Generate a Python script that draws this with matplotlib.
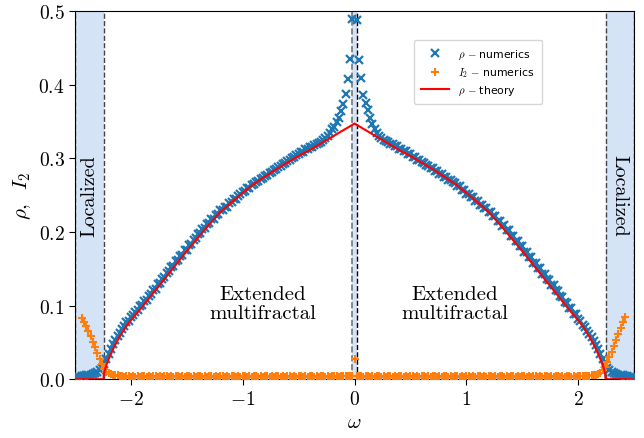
import numpy as np
import matplotlib
matplotlib.use('Agg')
import matplotlib.pyplot as plt

# Computer Modern look for ticks / annotations
plt.rcParams.update({
    'font.family': 'serif',
    'font.serif': ['cmr10'],
    'mathtext.fontset': 'cm',
    'axes.formatter.use_mathtext': True,
    'axes.unicode_minus': True,
})

# ---------------------------------------------------------------
# Data
# ---------------------------------------------------------------
omega_neg = np.linspace(-2.50, -0.02, 125)
omega_pos = np.linspace(0.02, 2.50, 125)
omega_num = np.concatenate([omega_neg, [0.0], omega_pos])

# rho numerics, omega = -2.50 ... -0.02
rho_num_neg = [
    0.003, 0.004, 0.003, 0.004, 0.004, 0.005, 0.005, 0.006, 0.007, 0.008,
    0.010, 0.012, 0.015, 0.020, 0.027, 0.034, 0.041, 0.048, 0.053, 0.059,
    0.063, 0.068, 0.072, 0.077, 0.079, 0.084, 0.087, 0.091, 0.094, 0.099,
    0.101, 0.106, 0.108, 0.113, 0.115, 0.121, 0.123, 0.129, 0.130, 0.136,
    0.139, 0.144, 0.147, 0.152, 0.154, 0.160, 0.162, 0.167, 0.169, 0.175,
    0.176, 0.182, 0.184, 0.189, 0.191, 0.197, 0.198, 0.204, 0.205, 0.211,
    0.212, 0.217, 0.218, 0.223, 0.224, 0.229, 0.229, 0.234, 0.234, 0.239,
    0.240, 0.244, 0.245, 0.249, 0.251, 0.254, 0.256, 0.259, 0.260, 0.264,
    0.265, 0.268, 0.269, 0.272, 0.273, 0.276, 0.277, 0.280, 0.281, 0.284,
    0.285, 0.288, 0.289, 0.292, 0.293, 0.296, 0.297, 0.300, 0.301, 0.304,
    0.305, 0.308, 0.309, 0.312, 0.312, 0.315, 0.315, 0.318, 0.319, 0.321,
    0.322, 0.325, 0.327, 0.330, 0.334, 0.339, 0.343, 0.349, 0.355, 0.364,
    0.374, 0.387, 0.408, 0.435, 0.489,
]
# value at omega = 0 lies above the plotted range
rho_num_zero = [np.nan]
# rho numerics, omega = 0.02 ... 2.50
rho_num_pos = [
    0.488, 0.433, 0.409, 0.386, 0.375, 0.365, 0.354, 0.346, 0.339, 0.334,
    0.330, 0.327, 0.325, 0.323, 0.322, 0.319, 0.319, 0.316, 0.316, 0.313,
    0.313, 0.310, 0.310, 0.306, 0.306, 0.302, 0.302, 0.298, 0.298, 0.295,
    0.294, 0.291, 0.290, 0.287, 0.286, 0.283, 0.282, 0.279, 0.278, 0.275,
    0.274, 0.271, 0.270, 0.267, 0.266, 0.262, 0.262, 0.257, 0.257, 0.252,
    0.252, 0.247, 0.247, 0.242, 0.242, 0.237, 0.237, 0.232, 0.232, 0.227,
    0.227, 0.221, 0.221, 0.215, 0.215, 0.208, 0.209, 0.202, 0.202, 0.195,
    0.195, 0.188, 0.188, 0.181, 0.181, 0.173, 0.173, 0.166, 0.166, 0.158,
    0.158, 0.151, 0.151, 0.143, 0.143, 0.136, 0.135, 0.128, 0.128, 0.121,
    0.120, 0.113, 0.112, 0.105, 0.104, 0.097, 0.096, 0.089, 0.088, 0.082,
    0.079, 0.074, 0.071, 0.065, 0.062, 0.057, 0.052, 0.047, 0.041, 0.034,
    0.027, 0.020, 0.015, 0.012, 0.010, 0.008, 0.007, 0.006, 0.005, 0.005,
    0.004, 0.004, 0.003, 0.003, 0.003,
]

# I_2 numerics, omega = -2.50 ... -0.02
i2_num_neg = [
    np.nan, np.nan, np.nan,
    0.083, 0.078, 0.072, 0.066, 0.059, 0.051, 0.043, 0.035, 0.027, 0.020,
    0.014, 0.010, 0.008, 0.007, 0.006, 0.005, 0.005, 0.004,
    0.004, 0.003, 0.004, 0.004, 0.003, 0.004, 0.003, 0.004,
    0.003, 0.004, 0.004, 0.003, 0.004, 0.003, 0.004, 0.004,
    0.003, 0.004, 0.003, 0.004, 0.004, 0.003, 0.004, 0.003,
    0.004, 0.004, 0.003, 0.004, 0.003, 0.004, 0.004, 0.003,
    0.004, 0.003, 0.004, 0.004, 0.003, 0.004, 0.003, 0.004,
    0.004, 0.003, 0.004, 0.003, 0.004, 0.004, 0.003, 0.004,
    0.003, 0.004, 0.004, 0.003, 0.004, 0.003, 0.004, 0.004,
    0.003, 0.004, 0.003, 0.004, 0.004, 0.003, 0.004, 0.003,
    0.004, 0.004, 0.003, 0.004, 0.003, 0.004, 0.004, 0.003,
    0.004, 0.003, 0.004, 0.004, 0.003, 0.004, 0.003, 0.004,
    0.004, 0.003, 0.004, 0.003, 0.004, 0.004, 0.003, 0.004,
    0.003, 0.004, 0.004, 0.003, 0.004, 0.003, 0.004, 0.004,
    0.004, 0.003, 0.004, 0.004, 0.004, 0.004, 0.004, 0.004,
]
i2_num_zero = [0.028]
# I_2 numerics, omega = 0.02 ... 2.50
i2_num_pos = [
    0.004, 0.004, 0.004, 0.003, 0.004, 0.004, 0.003, 0.004,
    0.003, 0.004, 0.004, 0.003, 0.004, 0.003, 0.004, 0.004,
    0.003, 0.004, 0.003, 0.004, 0.004, 0.003, 0.004, 0.003,
    0.004, 0.004, 0.003, 0.004, 0.003, 0.004, 0.004, 0.003,
    0.004, 0.003, 0.004, 0.004, 0.003, 0.004, 0.003, 0.004,
    0.004, 0.003, 0.004, 0.003, 0.004, 0.004, 0.003, 0.004,
    0.003, 0.004, 0.004, 0.003, 0.004, 0.003, 0.004, 0.004,
    0.003, 0.004, 0.003, 0.004, 0.004, 0.003, 0.004, 0.003,
    0.004, 0.004, 0.003, 0.004, 0.003, 0.004, 0.004, 0.003,
    0.004, 0.003, 0.004, 0.004, 0.003, 0.004, 0.003, 0.004,
    0.004, 0.003, 0.004, 0.003, 0.004, 0.004, 0.003, 0.004,
    0.003, 0.004, 0.004, 0.003, 0.004, 0.003, 0.004, 0.004,
    0.003, 0.004, 0.003, 0.004, 0.004, 0.004, 0.004, 0.004,
    0.004, 0.005, 0.005, 0.006, 0.007, 0.009, 0.012, 0.017, 0.023,
    0.030, 0.037, 0.045, 0.053, 0.061, 0.069, 0.077, 0.084,
    np.nan, np.nan, np.nan, np.nan,
]

rho_num = np.array(rho_num_neg + rho_num_zero + rho_num_pos)
i2_num = np.array(i2_num_neg + i2_num_zero + i2_num_pos)

# rho theory
omega_th = [-2.5, -2.245, -2.242, -2.235, -2.22, -2.2, -2.15, -2.1, -2.05,
            -2.0, -1.9, -1.8, -1.7, -1.6, -1.5, -1.4, -1.3, -1.2, -1.1,
            -1.0, -0.9, -0.8, -0.7, -0.6, -0.5, -0.4, -0.3, -0.2, -0.1,
            0.0,
            0.1, 0.2, 0.3, 0.4, 0.5, 0.6, 0.7, 0.8, 0.9, 1.0,
            1.1, 1.2, 1.3, 1.4, 1.5, 1.6, 1.7, 1.8, 1.9, 2.0,
            2.05, 2.1, 2.15, 2.2, 2.22, 2.235, 2.242, 2.245, 2.5]
rho_th = [0.0, 0.0, 0.006, 0.012, 0.019, 0.027, 0.044, 0.058, 0.070,
          0.080, 0.098, 0.117, 0.136, 0.155, 0.174, 0.192, 0.210, 0.227, 0.240,
          0.253, 0.265, 0.275, 0.285, 0.294, 0.303, 0.311, 0.320, 0.329, 0.338,
          0.347,
          0.338, 0.329, 0.320, 0.311, 0.303, 0.294, 0.285, 0.275, 0.265, 0.253,
          0.240, 0.227, 0.210, 0.192, 0.174, 0.155, 0.136, 0.117, 0.098, 0.080,
          0.070, 0.058, 0.044, 0.027, 0.019, 0.012, 0.006, 0.0, 0.0]

# region boundaries
loc_edge = 2.245
center_half = 0.02

shade = '#d5e3f7'

fig, ax = plt.subplots(figsize=(6.44, 4.39), dpi=100)
fig.subplots_adjust(left=0.1165, right=0.9845, bottom=0.134, top=0.973)

# shaded regions
ax.axvspan(-2.5, -loc_edge, facecolor=shade, edgecolor='none', zorder=0)
ax.axvspan(loc_edge, 2.5, facecolor=shade, edgecolor='none', zorder=0)
ax.axvspan(-center_half, center_half, facecolor=shade, edgecolor='none', zorder=0)

for xv in [-2.497, -loc_edge, loc_edge, 2.497]:
    ax.axvline(xv, color='#444444', ls='--', lw=1.0, zorder=1)
ax.axvline(-center_half, color='#777777', ls='--', lw=1.2, zorder=1)
ax.axvline(center_half, color='black', ls='--', lw=1.0, zorder=1)

# data
ax.plot(omega_num, rho_num, 'x', color='#1f77b4', ms=6, mew=1.6,
        label=r'$\rho$ $-$ numerics', zorder=3)
ax.plot(omega_num, i2_num, '+', color='#ff7f0e', ms=6, mew=1.5,
        label=r'$I_2$ $-$ numerics', zorder=3)
ax.plot(omega_th, rho_th, '-', color='red', lw=1.5,
        label=r'$\rho$ $-$ theory', zorder=4)

# annotations
ax.text(-2.372, 0.25, 'Localized', rotation=90, fontsize=14.5,
        ha='center', va='center')
ax.text(2.372, 0.25, 'Localized', rotation=-90, fontsize=14.5,
        ha='center', va='center')
ax.text(-0.82, 0.103, 'Extended\nmultifractal', fontsize=15,
        ha='center', va='center', linespacing=1.05)
ax.text(0.9, 0.103, 'Extended\nmultifractal', fontsize=15,
        ha='center', va='center', linespacing=1.05)

ax.set_xlim(-2.5, 2.5)
ax.set_ylim(0, 0.5)
ax.set_xticks([-2, -1, 0, 1, 2])
ax.set_yticks([0.0, 0.1, 0.2, 0.3, 0.4, 0.5])
ax.tick_params(labelsize=14, direction='out', length=4)
ax.set_xlabel(r'$\omega$', fontsize=15)
ax.set_ylabel(r'$\rho,\;\; I_2$', fontsize=15)

ax.legend(loc='upper left', bbox_to_anchor=(0.596, 0.935),
          prop={'family': 'DejaVu Sans', 'size': 7.8},
          handlelength=2.6, labelspacing=0.4, borderpad=0.7)

fig.savefig('out.png', dpi=100)
